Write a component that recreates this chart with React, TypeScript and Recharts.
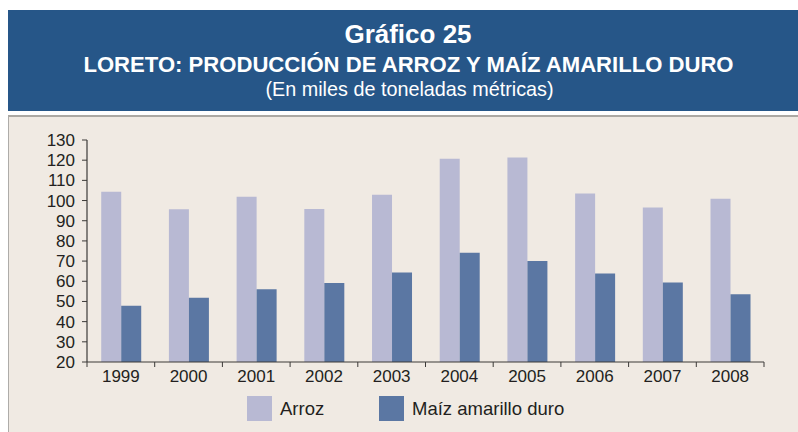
import React from "react";
import { BarChart, Bar, XAxis, YAxis } from "recharts";

const YEARS = ["1999", "2000", "2001", "2002", "2003", "2004", "2005", "2006", "2007", "2008"];
const ARROZ = [104.3, 95.7, 101.9, 95.8, 102.9, 120.7, 121.3, 103.5, 96.5, 100.9];
const MAIZ = [47.9, 51.8, 56.0, 59.2, 64.4, 74.1, 70.1, 63.8, 59.4, 53.6];
const Y_TICKS = [20, 30, 40, 50, 60, 70, 80, 90, 100, 110, 120, 130];
const SERIES_NAMES = ["Arroz", "Maíz amarillo duro"];
const TITLE = "Gráfico 25";
const SUBTITLE = "LORETO: PRODUCCIÓN DE ARROZ Y MAÍZ AMARILLO DURO";
const UNITS = "(En miles de toneladas métricas)";

const data = YEARS.map((y, i) => ({ year: y, arroz: ARROZ[i], maiz: MAIZ[i] }));

const FONT = "'Liberation Sans', Arial, Helvetica, sans-serif";
const C_ARROZ = "#B8B9D3";
const C_MAIZ = "#5B77A3";
const AXIS = "#3c3a38";
const TEXT = "#231F20";

const W = 798;
const H = 432;
const PLOT_LEFT = 87;
const PLOT_RIGHT = 764;
const HALF = (PLOT_RIGHT - PLOT_LEFT) / YEARS.length / 2;

function XTick(props: any) {
  const { x, y, payload } = props;
  const isLast = payload.value === YEARS[YEARS.length - 1];
  return (
    <g>
      <line x1={x - HALF} x2={x - HALF} y1={y} y2={y + 5} stroke={AXIS} strokeWidth={1} />
      {isLast && <line x1={x + HALF} x2={x + HALF} y1={y} y2={y + 5} stroke={AXIS} strokeWidth={1} />}
      <text x={x} y={y + 20} textAnchor="middle" fill={TEXT} fontSize={17} fontFamily={FONT}>
        {payload.value}
      </text>
    </g>
  );
}

export default function App() {
  return (
    <div style={{ position: "fixed", left: 0, top: 0, width: W, height: H, background: "#fff", overflow: "hidden" }}>
      {/* header */}
      <svg width={W} height={120} style={{ position: "absolute", left: 0, top: 0 }}>
        <rect x={8} y={10} width={W - 8} height={101} fill="#265688" />
        <text x={408} y={43} textAnchor="middle" fill="#fff" fontSize={26} fontWeight="bold" fontFamily={FONT}>
          {TITLE}
        </text>
        <text x={408.5} y={72} textAnchor="middle" fill="#fff" fontSize={22.1} fontWeight="bold" fontFamily={FONT}>
          {SUBTITLE}
        </text>
        <text x={409.5} y={96} textAnchor="middle" fill="#fff" fontSize={19.8} fontFamily={FONT}>
          {UNITS}
        </text>
      </svg>
      {/* panel */}
      <div
        style={{
          position: "absolute",
          left: 8,
          top: 115,
          width: W - 8,
          height: H - 115,
          background: "#F0EAE3",
          borderTop: "2px solid #ABA8A3",
          borderLeft: "1.5px solid #AEACA9",
          boxSizing: "border-box",
        }}
      />
      <div style={{ position: "absolute", left: 0, top: 0 }}>
        <BarChart
          width={W}
          height={H}
          data={data}
          margin={{ top: 140, right: W - PLOT_RIGHT, bottom: 40, left: 0 }}
          barCategoryGap="21%"
          barGap={0}
        >
          <XAxis
            dataKey="year"
            height={30}
            interval={0}
            tickLine={false}
            tickSize={0}
            tickMargin={0}
            axisLine={{ stroke: AXIS, strokeWidth: 1.2 }}
            tick={<XTick />}
          />
          <YAxis
            width={PLOT_LEFT}
            domain={[20, 130]}
            ticks={Y_TICKS}
            interval={0}
            tickSize={5}
            tickMargin={7}
            axisLine={{ stroke: AXIS, strokeWidth: 1.2 }}
            tickLine={{ stroke: AXIS }}
            tick={{ fill: TEXT, fontSize: 17, fontFamily: FONT }}
          />
          <Bar dataKey="arroz" name={SERIES_NAMES[0]} fill={C_ARROZ} isAnimationActive={false} />
          <Bar dataKey="maiz" name={SERIES_NAMES[1]} fill={C_MAIZ} isAnimationActive={false} />
        </BarChart>
      </div>
      {/* legend */}
      <svg width={W} height={50} style={{ position: "absolute", left: 0, top: 390 }}>
        <rect x={247} y={6} width={25} height={25} fill={C_ARROZ} />
        <text x={280} y={25} fill={TEXT} fontSize={18.5} fontFamily={FONT}>
          {SERIES_NAMES[0]}
        </text>
        <rect x={379} y={6} width={25} height={25} fill={C_MAIZ} />
        <text x={412} y={25} fill={TEXT} fontSize={18.5} fontFamily={FONT}>
          {SERIES_NAMES[1]}
        </text>
      </svg>
    </div>
  );
}
